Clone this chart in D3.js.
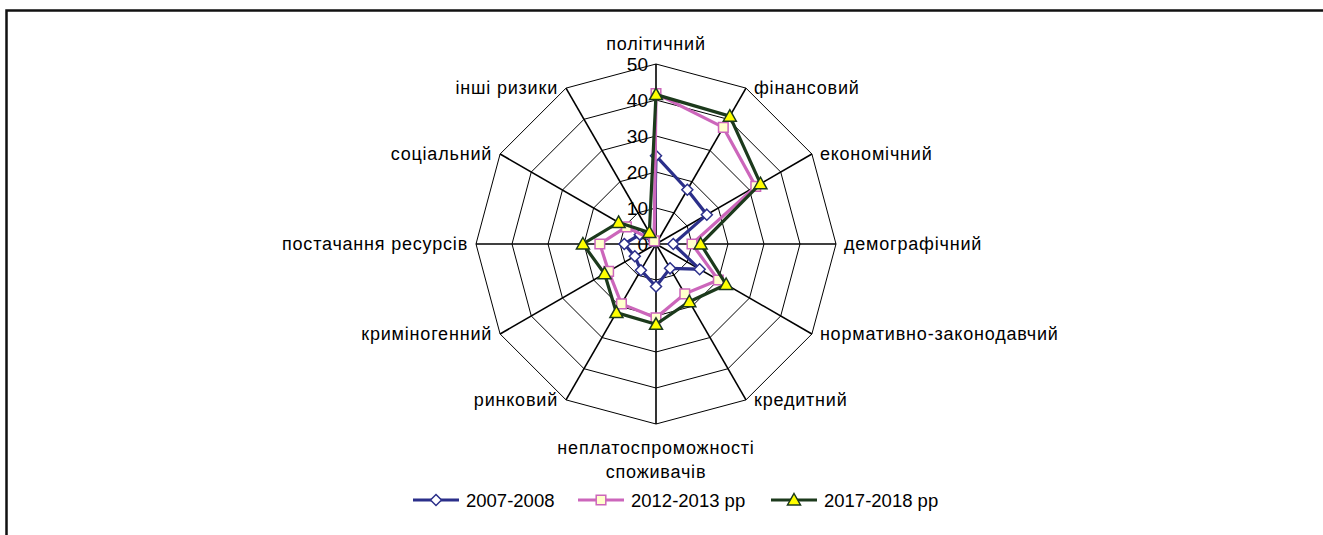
<!DOCTYPE html>
<html>
<head>
<meta charset="utf-8">
<script src="https://cdn.jsdelivr.net/npm/d3@7"></script>
<style>
  body { margin: 0; background: #fff; }
  text { font-family: "Liberation Sans", Arial, sans-serif; fill: #000; }
</style>
</head>
<body>
<svg id="chart" width="1323" height="535"></svg>
<script>
// categories clockwise from the top
const categories = ['політичний', 'фінансовий', 'економічний', 'демографічний',
    'нормативно-законодавчий', 'кредитний', 'неплатоспроможності споживачів',
    'ринковий', 'криміногенний', 'постачання ресурсів', 'соціальний', 'інші ризики'];

const s2007 = [24.5, 17.4, 16.3, 4.8, 14, 7.8, 11.8, 8.4, 6.8, 8.8, 5.2, 1];
const s2012 = [41.8, 37.4, 32, 10, 20, 16, 20.5, 19.2, 15.2, 15.6, 9.5, 1];
const s2017 = [41.5, 41, 33.5, 12.4, 22.5, 18.5, 22.3, 22, 16.5, 20.3, 12, 3.7];

const seriesNames = ['2007-2008', '2012-2013 рр', '2017-2018 рр'];
const ticks = [0, 10, 20, 30, 40, 50];

const svg = d3.select('#chart');
const cx = 656, cy = 244;

// frame (runs off the right and bottom edges like the source)
svg.append('rect')
    .attr('x', 6.5).attr('y', 10.5)
    .attr('width', 1330).attr('height', 540)
    .attr('fill', 'none').attr('stroke', '#111').attr('stroke-width', 2.5);

const r = d3.scaleLinear().domain([0, 50]).range([0, 180]);
const angle = d3.scaleLinear().domain([0, categories.length]).range([0, 2 * Math.PI]);

function pt(i, v) {
    const a = angle(i);
    return [cx + r(v) * Math.sin(a), cy - r(v) * Math.cos(a)];
}

const g = svg.append('g');

// rings
ticks.slice(1).forEach(function(t) {
    g.append('polygon')
        .attr('points', categories.map(function(c, i){ return pt(i, t).join(','); }).join(' '))
        .attr('fill', 'none').attr('stroke', '#000').attr('stroke-width', 1);
});

// spokes
categories.forEach(function(c, i) {
    const p = pt(i, 50);
    g.append('line')
        .attr('x1', cx).attr('y1', cy)
        .attr('x2', p[0]).attr('y2', p[1])
        .attr('stroke', '#000').attr('stroke-width', 1.6);
});

// tick labels along the top spoke
g.selectAll('.tick').data(ticks).enter()
    .append('text')
        .attr('class', 'tick')
        .attr('x', cx - 8)
        .attr('y', function(d){ return cy - r(d) + 7; })
        .attr('text-anchor', 'end')
        .style('font-size', '19px')
        .text(function(d){ return d; });

// category labels
categories.forEach(function(c, i) {
    const a = angle(i);
    const s = Math.sin(a);
    const p = pt(i, 50);
    let anchor = 'middle', dx = 0, dy = 6;
    if (s > 0.01) { anchor = 'start'; dx = 8; }
    else if (s < -0.01) { anchor = 'end'; dx = -8; }
    if (i === 0) dy = -14;
    const t = g.append('text')
        .attr('text-anchor', anchor)
        .style('font-size', '18px')
        .style('letter-spacing', '0.8px');
    if (i === 6) {
        const words = c.split(' ');
        words.forEach(function(w, k) {
            t.append('tspan')
                .attr('x', p[0]).attr('y', p[1] + 30 + k * 24)
                .text(w);
        });
    } else {
        t.attr('x', p[0] + dx).attr('y', p[1] + dy).text(c);
    }
});

// marker shapes drawn as small paths
const diamond = 'M0,-5.5L5.5,0L0,5.5L-5.5,0Z';
const square = 'M-4.8,-4.8H4.8V4.8H-4.8Z';
const triangle = 'M0,-6.5L6.5,5L-6.5,5Z';

const styles = [
    {color: '#2b2f8a', fill: '#ffffff', shape: diamond},
    {color: '#cc66bb', fill: '#ffffcc', shape: square},
    {color: '#1c3a1c', fill: '#ffff00', shape: triangle}
];
const allSeries = [s2007, s2012, s2017];

const line = d3.lineRadial()
    .angle(function(d, i){ return angle(i); })
    .radius(function(d){ return r(d); })
    .curve(d3.curveLinearClosed);

allSeries.forEach(function(vals, k) {
    const st = styles[k];
    const sg = svg.append('g').attr('transform', 'translate(' + cx + ',' + cy + ')');
    sg.append('path')
        .attr('d', line(vals))
        .attr('fill', 'none')
        .attr('stroke', st.color)
        .attr('stroke-width', 3.2)
        .attr('stroke-linejoin', 'miter');
    sg.selectAll('.m').data(vals).enter()
        .append('path')
            .attr('transform', function(d, i) {
                const p = pt(i, d);
                return 'translate(' + (p[0] - cx) + ',' + (p[1] - cy) + ')';
            })
            .attr('d', st.shape)
            .attr('fill', st.fill)
            .attr('stroke', st.color)
            .attr('stroke-width', 1.5);
});

// legend
const legendX = [413, 578, 771];
const leg = svg.append('g');
seriesNames.forEach(function(n, k) {
    const st = styles[k];
    const x = legendX[k], y = 500;
    leg.append('line')
        .attr('x1', x).attr('x2', x + 46)
        .attr('y1', y).attr('y2', y)
        .attr('stroke', st.color).attr('stroke-width', 3.2);
    leg.append('path')
        .attr('transform', 'translate(' + (x + 23) + ',' + y + ')')
        .attr('d', st.shape)
        .attr('fill', st.fill)
        .attr('stroke', st.color)
        .attr('stroke-width', 1.5);
    leg.append('text')
        .attr('x', x + 53).attr('y', y + 6.5)
        .style('font-size', '18.5px')
        .text(n);
});
</script>
</body>
</html>
